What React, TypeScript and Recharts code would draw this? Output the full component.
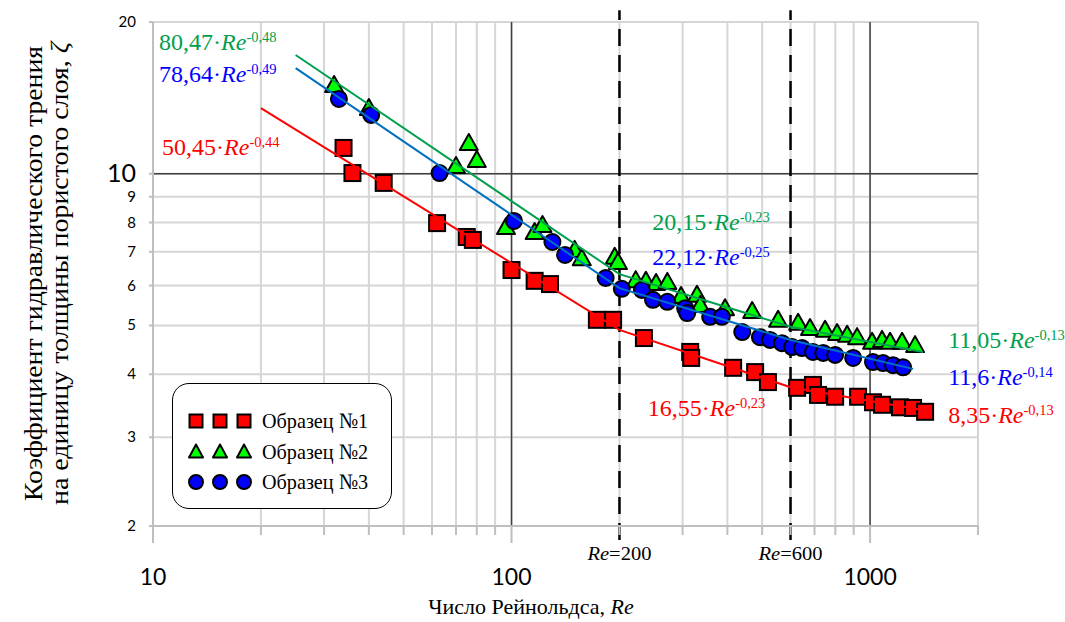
import React from 'react';
import { ScatterChart, Scatter, XAxis, YAxis, CartesianGrid, ReferenceLine } from 'recharts';

// ---------- axis ticks ----------
const reTicks = [10, 20, 30, 40, 50, 60, 70, 80, 90, 100, 200, 300, 400, 500, 600, 700, 800, 900, 1000, 2000];
const zetaTicks = [2, 3, 4, 5, 6, 7, 8, 9, 10, 20];
const labeledRe = [10, 100, 1000];
const majorRe = [100, 1000];
const majorZeta = [10];
const boundaryRe = [200, 600];

// ---------- series: Образец №1 ----------
const sample1Re = [34, 36, 44, 62, 75, 78, 100, 116, 128, 173, 192, 234, 315, 317, 415, 478, 519, 626, 693, 716, 799, 926, 1019, 1080, 1212, 1318, 1424];
const sample1Zeta = [11.25, 10.03, 9.59, 7.98, 7.49, 7.39, 6.44, 6.13, 6.04, 5.13, 5.13, 4.72, 4.43, 4.31, 4.12, 4.04, 3.86, 3.76, 3.81, 3.64, 3.61, 3.61, 3.52, 3.48, 3.44, 3.43, 3.37];

// ---------- series: Образец №2 ----------
const sample2Re = [32, 40, 70, 76, 80, 96.5, 116, 122, 150, 157, 194, 198, 222, 237, 253, 272, 297, 329, 336, 394, 469, 554, 630, 680, 749, 809, 863, 920, 1013, 1080, 1137, 1228, 1335];
const sample2Zeta = [15.0, 13.5, 10.36, 11.51, 10.65, 7.84, 7.66, 7.91, 7.06, 6.8, 6.84, 6.68, 6.15, 6.13, 6.07, 6.1, 5.72, 5.75, 5.49, 5.41, 5.34, 5.13, 5.06, 4.94, 4.9, 4.83, 4.79, 4.74, 4.64, 4.68, 4.64, 4.64, 4.57];

// ---------- series: Образец №3 ----------
const sample3Re = [33, 40.6, 63, 101.6, 130, 141, 183, 203, 231, 248, 272, 305, 309, 358, 386, 440, 493, 526, 568, 606, 646, 693, 740, 799, 897, 1019, 1087, 1159, 1236];
const sample3Zeta = [14.07, 13.08, 10.03, 8.06, 7.32, 6.9, 6.21, 5.91, 5.88, 5.62, 5.57, 5.41, 5.29, 5.2, 5.2, 4.85, 4.74, 4.68, 4.61, 4.53, 4.51, 4.43, 4.41, 4.37, 4.31, 4.23, 4.21, 4.17, 4.13];

// ---------- fitted trend lines ----------
const fit1Re = [20, 200, 600, 1470];
const fit1Zeta = [13.5, 4.9, 3.77, 3.38];
const fit2Re = [25, 200, 600, 1405];
const fit2Zeta = [17.2, 6.32, 4.97, 4.43];
const fit3Re = [25, 200, 600, 1318];
const fit3Zeta = [16.2, 5.93, 4.68, 4.1];

// ---------- equation annotations ----------
const eqCoef = ['80,47', '78,64', '50,45', '20,15', '22,12', '16,55', '11,05', '11,6', '8,35'];
const eqExp = ['-0,48', '-0,49', '-0,44', '-0,23', '-0,25', '-0,23', '-0,13', '-0,14', '-0,13'];
const eqSeries = [2, 3, 1, 2, 3, 1, 2, 3, 1];
const eqAnchorRe = [10.4, 10.4, 10.6, 247, 247, 240, 1651, 1651, 1651];
const eqAnchorZeta = [17.6, 15.2, 10.9, 7.73, 6.59, 3.31, 4.51, 3.81, 3.2];

const legendNames = ['Образец №1', 'Образец №2', 'Образец №3'];
const yTitleLines = ['Коэффициент гидравлического трения', 'на единицу толщины пористого слоя, '];
const xTitleText = 'Число Рейнольдса, ';

// ---------- styles ----------
const markerFill: Record<number, string> = { 1: '#ff0000', 2: '#00ff00', 3: '#0000ff' };
const textColor: Record<number, string> = { 1: '#ff0000', 2: '#00a04c', 3: '#0000ff' };
const lineColor: Record<number, string> = { 1: '#ff0000', 2: '#00a04c', 3: '#0070c0' };
const SERIF = '"Liberation Serif", "DejaVu Serif", serif';
const SANS = 'Lato, "Open Sans", sans-serif';
const GRID = '#d6d6d6';
const AXIS = '#bfbfbf';

const zip = (xs: number[], ys: number[]) => xs.map((re, i) => ({ re, z: ys[i] }));
const s1 = zip(sample1Re, sample1Zeta);
const s2 = zip(sample2Re, sample2Zeta);
const s3 = zip(sample3Re, sample3Zeta);
const f1 = zip(fit1Re, fit1Zeta);
const f2 = zip(fit2Re, fit2Zeta);
const f3 = zip(fit3Re, fit3Zeta);
const eqData = eqCoef.map((coef, i) => ({ re: eqAnchorRe[i], z: eqAnchorZeta[i], coef, exp: eqExp[i], s: eqSeries[i] }));

const SquareShape = (p: any) => (
  <rect x={p.cx - 8} y={p.cy - 8} width={16} height={16} fill={markerFill[1]} stroke="#000" strokeWidth={2} />
);
const TriangleShape = (p: any) => (
  <polygon
    points={`${p.cx},${p.cy - 9} ${p.cx + 9},${p.cy + 7} ${p.cx - 9},${p.cy + 7}`}
    fill={markerFill[2]}
    stroke="#000"
    strokeWidth={2}
    strokeLinejoin="round"
  />
);
const CircleShape = (p: any) => <circle cx={p.cx} cy={p.cy} r={8} fill={markerFill[3]} stroke="#000" strokeWidth={2} />;
const EmptyShape = () => <g />;

const EqShape = (p: any) => {
  const d = p.payload;
  return (
    <text x={p.cx} y={p.cy} fontFamily={SERIF} fontSize={24} fill={textColor[d.s]}>
      {d.coef}·<tspan fontStyle="italic">Re</tspan>
      <tspan fontSize={14.5} dy={-8}>{d.exp}</tspan>
    </text>
  );
};

const XTick = (p: any) => {
  const { x, y, payload } = p;
  const v = payload.value;
  const big = labeledRe.includes(v);
  return (
    <g>
      <line x1={x} x2={x} y1={y} y2={y + (big ? 17 : 9)} stroke={AXIS} strokeWidth={2} />
      {big && (
        <text x={x} y={y + 59} textAnchor="middle" fontFamily={SANS} fontSize={23} fill="#000">
          {v}
        </text>
      )}
      {boundaryRe.includes(v) && (
        <text x={x - 32} y={y + 34} fontFamily={SERIF} fontSize={18} fill="#000" textLength={64} lengthAdjust="spacingAndGlyphs">
          <tspan fontStyle="italic">Re</tspan>={v}
        </text>
      )}
    </g>
  );
};

const YTick = (p: any) => {
  const { x, y, payload } = p;
  const v = payload.value;
  const big = majorZeta.includes(v);
  return (
    <g>
      <line x1={x - 4} x2={x} y1={y} y2={y} stroke={AXIS} strokeWidth={2} />
      <text x={x - 17} y={y} dy={big ? 8 : 5} textAnchor="end" fontFamily={SANS} fontSize={big ? 25 : 15} fill="#000">
        {v}
      </text>
    </g>
  );
};

const YTitle = () => (
  <g fontFamily={SERIF} fontSize={25} fill="#000">
    <text transform="translate(42,501) rotate(-90)" textLength={455} lengthAdjust="spacingAndGlyphs">
      {yTitleLines[0]}
    </text>
    <text transform="translate(68,505) rotate(-90)" textLength={463} lengthAdjust="spacingAndGlyphs">
      {yTitleLines[1]}
      <tspan fontStyle="italic">ζ</tspan>
    </text>
  </g>
);

const XTitle = () => (
  <text x={531} y={614} textAnchor="middle" fontFamily={SERIF} fontSize={22} fill="#000">
    {xTitleText}
    <tspan fontStyle="italic">Re</tspan>
  </text>
);

const LegendBox = () => {
  const rows = [1, 2, 3];
  return (
    <div
      style={{
        position: 'absolute',
        left: 172,
        top: 383,
        width: 220,
        height: 126,
        boxSizing: 'border-box',
        border: '1.5px solid #000',
        borderRadius: 17,
        background: '#fff',
      }}
    >
      <svg width={217} height={123} style={{ position: 'absolute', left: 0, top: 0 }}>
        {rows.map((s, i) => {
          const cy = 37 + i * 30.5;
          return (
            <g key={s}>
              {[23, 47, 71].map((cx) =>
                s === 1 ? (
                  <rect key={cx} x={cx - 6.5} y={cy - 6.5} width={13} height={13} fill={markerFill[1]} stroke="#000" strokeWidth={2} />
                ) : s === 2 ? (
                  <polygon key={cx} points={`${cx},${cy - 7} ${cx + 7},${cy + 6} ${cx - 7},${cy + 6}`} fill={markerFill[2]} stroke="#000" strokeWidth={2} strokeLinejoin="round" />
                ) : (
                  <circle key={cx} cx={cx} cy={cy} r={7} fill={markerFill[3]} stroke="#000" strokeWidth={2} />
                )
              )}
              <text x={89} y={cy + 7} fontFamily={SERIF} fontSize={22} fill="#000" textLength={106} lengthAdjust="spacingAndGlyphs">
                {legendNames[i]}
              </text>
            </g>
          );
        })}
      </svg>
    </div>
  );
};

export default function App() {
  return (
    <div style={{ position: 'absolute', left: 0, top: 0, width: 1065, height: 622, background: '#fff' }}>
      <ScatterChart width={1065} height={622} margin={{ top: 22, right: 87, bottom: 0, left: 0 }}>
        <CartesianGrid stroke={GRID} strokeWidth={2} />
        <XAxis
          dataKey="re"
          type="number"
          scale="log"
          domain={[10, 2000]}
          ticks={reTicks}
          interval={0}
          height={96}
          tickSize={0}
          tickMargin={0}
          tickLine={false}
          axisLine={{ stroke: AXIS, strokeWidth: 2 }}
          tick={<XTick />}
          label={<XTitle />}
        />
        <YAxis
          dataKey="z"
          type="number"
          scale="log"
          domain={[2, 20]}
          ticks={zetaTicks}
          interval={0}
          width={153}
          tickSize={0}
          tickMargin={0}
          tickLine={false}
          axisLine={{ stroke: AXIS, strokeWidth: 2 }}
          tick={<YTick />}
          label={<YTitle />}
        />
        {majorRe.map((v) => (
          <ReferenceLine key={'mx' + v} x={v} stroke="#404040" strokeWidth={1.5} />
        ))}
        {majorZeta.map((v) => (
          <ReferenceLine key={'my' + v} y={v} stroke="#404040" strokeWidth={1.5} />
        ))}
        <Scatter name={legendNames[0]} data={s1} shape={SquareShape} isAnimationActive={false} />
        <Scatter name={legendNames[1]} data={s2} shape={TriangleShape} isAnimationActive={false} />
        <Scatter name={legendNames[2]} data={s3} shape={CircleShape} isAnimationActive={false} />
        <Scatter data={f1} shape={EmptyShape} line={{ stroke: lineColor[1], strokeWidth: 2 }} isAnimationActive={false} />
        <Scatter data={f2} shape={EmptyShape} line={{ stroke: lineColor[2], strokeWidth: 2 }} isAnimationActive={false} />
        <Scatter data={f3} shape={EmptyShape} line={{ stroke: lineColor[3], strokeWidth: 2 }} isAnimationActive={false} />
        {boundaryRe.map((v) => (
          <ReferenceLine
            key={'b' + v}
            segment={[
              { x: v, y: 1.876 },
              { x: v, y: 21.1 },
            ]}
            stroke="#000"
            strokeWidth={2.5}
            strokeDasharray="17 9"
            ifOverflow="visible"
          />
        ))}
        <Scatter data={eqData} shape={EqShape} isAnimationActive={false} />
      </ScatterChart>
      <LegendBox />
    </div>
  );
}
